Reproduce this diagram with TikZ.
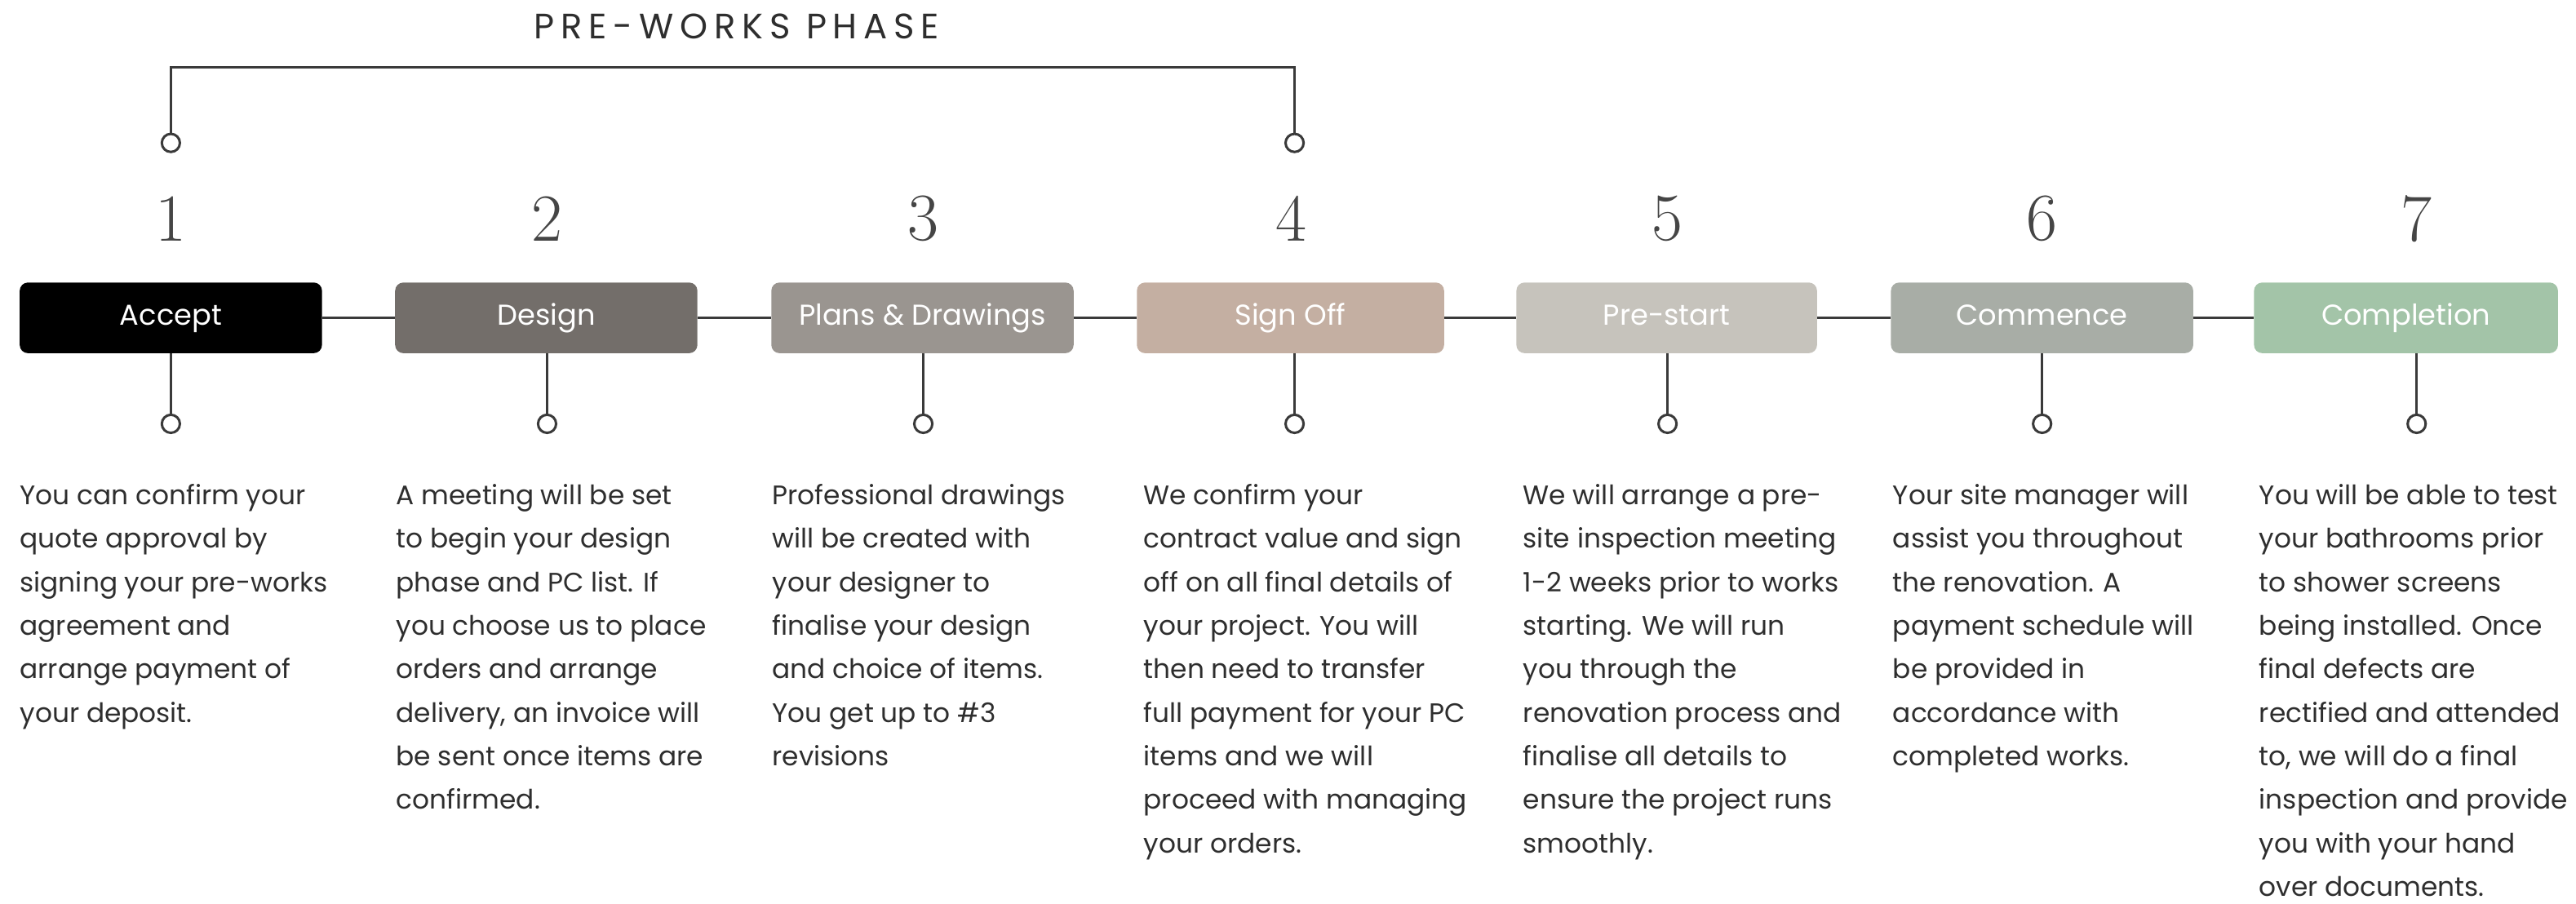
\documentclass[tikz,border=0pt]{standalone}
\usepackage{fontspec}
\newfontfamily\pop{Poppins}
\newfontfamily\poptitle[LetterSpace=18]{Poppins}
\definecolor{ln}{HTML}{3A3A3A}
\definecolor{txt}{HTML}{2E2E2E}
\definecolor{numc}{HTML}{454545}
\definecolor{cA}{HTML}{000000}
\definecolor{cB}{HTML}{736E6A}
\definecolor{cC}{HTML}{9A9590}
\definecolor{cD}{HTML}{C4AFA2}
\definecolor{cE}{HTML}{C6C3BC}
\definecolor{cF}{HTML}{A8ADA6}
\definecolor{cG}{HTML}{A3C4A8}
\tikzset{
  stepbox/.style={rounded corners=5pt, minimum width=184pt, minimum height=43pt, inner sep=0pt, text height=12.5pt, text depth=3.5pt, text=white, font=\pop\fontsize{17.5}{20}\selectfont},
  dot/.style={circle, draw=ln, line width=1.5pt, fill=white, minimum size=11pt, inner sep=0pt},
  num/.style={font=\fontsize{41}{44}\selectfont, text=numc, inner sep=0pt},
  desc/.style={anchor=north west, align=left, inner sep=0pt, text=txt, font=\pop\fontsize{16.3}{26.5}\selectfont},
  link/.style={draw=ln, line width=1.2pt},
  stem/.style={draw=ln, line width=1.6pt},
}
\begin{document}
\begin{tikzpicture}[x=1pt,y=-1pt]
\useasboundingbox (0,0) rectangle (1568,550.3);
% title
\node[font=\poptitle\fontsize{21.5}{24}\selectfont, text=txt, inner sep=0pt] (title) at (448.5,16) {PRE-WORKS PHASE};
% top circles and bracket
\node[dot] (t1) at (104,87) {};
\node[dot] (t4) at (788,87) {};
\coordinate (bl) at (104,41);
\coordinate (br) at (788,41);
\draw[stem] (t1.north) -- (bl) -- (br) -- (t4.north);
% numbers
\node[num] (n1) at (104,133) {1};
\node[num] (n2) at (333,133) {2};
\node[num] (n3) at (562,133) {3};
\node[num] (n4) at (786,133) {4};
\node[num] (n5) at (1015,133) {5};
\node[num] (n6) at (1243,133) {6};
\node[num] (n7) at (1471,133) {7};
% boxes
\node[stepbox, fill=cA] (b1) at (104,193.5) {Accept};
\node[stepbox, fill=cB] (b2) at (332.5,193.5) {Design};
\node[stepbox, fill=cC] (b3) at (561.5,193.5) {Plans \& Drawings};
\node[stepbox, fill=cD, minimum width=187pt] (b4) at (785.5,193.5) {Sign Off};
\node[stepbox, fill=cE, minimum width=183pt] (b5) at (1014.5,193.5) {Pre-start};
\node[stepbox, fill=cF] (b6) at (1243,193.5) {Commence};
\node[stepbox, fill=cG, minimum width=185pt] (b7) at (1464.5,193.5) {Completion};
\draw[link] (b1) -- (b2);
\draw[link] (b2) -- (b3);
\draw[link] (b3) -- (b4);
\draw[link] (b4) -- (b5);
\draw[link] (b5) -- (b6);
\draw[link] (b6) -- (b7);
% lower circles
\node[dot] (c1) at (104,258) {};
\node[dot] (c2) at (333,258) {};
\node[dot] (c3) at (562,258) {};
\node[dot] (c4) at (788,258) {};
\node[dot] (c5) at (1015,258) {};
\node[dot] (c6) at (1243,258) {};
\node[dot] (c7) at (1471,258) {};
\foreach \i in {1,...,7} {
  \draw[stem] (b\i.south -| c\i) -- (c\i.north);
}
% descriptions
\node[desc] (d1) at (12,294.5) {You can confirm your\\quote approval by\\signing your pre-works\\agreement and\\arrange payment of\\your deposit.};
\node[desc] (d2) at (241,294.5) {A meeting will be set\\to begin your design\\phase and PC list. If\\you choose us to place\\orders and arrange\\delivery, an invoice will\\be sent once items are\\confirmed.};
\node[desc] (d3) at (470,294.5) {Professional drawings\\will be created with\\your designer to\\finalise your design\\and choice of items.\\You get up to \#3\\revisions};
\node[desc] (d4) at (696,294.5) {We confirm your\\contract value and sign\\off on all final details of\\your project. You will\\then need to transfer\\full payment for your PC\\items and we will\\proceed with managing\\your orders.};
\node[desc] (d5) at (927,294.5) {We will arrange a pre-\\site inspection meeting\\1-2 weeks prior to works\\starting. We will run\\you through the\\renovation process and\\finalise all details to\\ensure the project runs\\smoothly.};
\node[desc] (d6) at (1152,294.5) {Your site manager will\\assist you throughout\\the renovation. A\\payment schedule will\\be provided in\\accordance with\\completed works.};
\node[desc] (d7) at (1375,294.5) {You will be able to test\\your bathrooms prior\\to shower screens\\being installed. Once\\final defects are\\rectified and attended\\to, we will do a final\\inspection and provide\\you with your hand\\over documents.};
\end{tikzpicture}
\end{document}
